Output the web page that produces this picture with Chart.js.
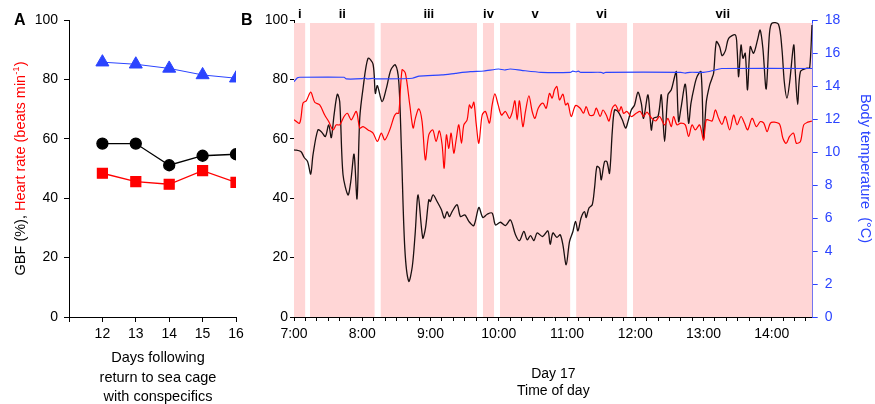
<!DOCTYPE html>
<html>
<head>
<meta charset="utf-8">
<script src="https://cdn.jsdelivr.net/npm/chart.js@4.4.1/dist/chart.umd.min.js"></script>
<style>
  html, body { margin: 0; padding: 0; background: #fff; }
  #wrap { position: relative; width: 875px; height: 404px; overflow: hidden; }
  #chart-a { position: absolute; left: 0; top: 0; }
  #chart-b { position: absolute; left: 240px; top: 0; }
</style>
</head>
<body>
<div id="wrap">
  <canvas id="chart-a" width="250" height="404"></canvas>
  <canvas id="chart-b" width="635" height="404"></canvas>
</div>
<script>
// ---- panel A: daily means ----
const days = [12, 13, 14, 15, 16];
const dailyTemp = [85.8, 85.1, 83.7, 81.5, 80.4]; // plotted on the 0-100 axis
const dailyGbf = [58.4, 58.4, 51.1, 54.3, 54.8];
const dailyHr = [48.4, 45.6, 44.7, 49.3, 45.3];

// ---- panel B: day 17, minutes after 7:00 ----
const gbfMin = [0, 6, 9, 12, 14.7, 16.7, 21, 24, 27.6, 30.5, 32.8, 35.2, 38.1, 40.2, 43.1, 47.5, 49.9, 52.8, 55.4, 57.8,
  60.7, 65.1, 69.5, 71.5, 73.3, 77.4, 81.2, 85.1, 89.1, 92.1, 94.4, 97.4, 100.9, 104, 106.5, 109.1, 113.2, 115.6, 118.5, 119.9,
  122.3, 125.8, 129.6, 132.2, 134.6, 136.6, 139, 143.4, 146.3, 150.2, 153.7, 158.1, 162.5, 166, 169.8, 174.2, 177.1, 181.5, 185.9, 190.3,
  194.7, 198.2, 202.1, 205, 207.9, 210.9, 213.8, 218.5, 223.2, 225.2, 227.6, 231.1, 234, 236.4, 239.3, 242.2, 245.2, 247.5, 249.6, 252.5,
  255.4, 256.9, 259.3, 262.2, 264.2, 266.3, 268.6, 270.1, 273, 275.1, 277.4, 279.8, 281.8, 284.8, 288.6, 291.5, 293.6, 296.5, 299.4, 302.4,
  305.3, 307.3, 311.2, 314.1, 316.1, 320, 322.9, 325.8, 328.7, 331.7, 334.6, 336.1, 338.1, 340.2, 344, 346.9, 349, 351.9, 354.3, 357.8,
  360.1, 362.5, 365.4, 367.5, 368.9, 371.3, 374.2, 376.3, 379.2, 382.1, 388, 389.5, 390.9, 393, 394.7, 396.7, 398.7, 401.1, 404, 407.5,
  409.8, 412.2, 415.1, 418, 420.1, 425.9, 428.9, 431, 433.4, 435.8, 439.3, 440.7, 442.8, 445.2, 451, 453.3, 455.4];
const gbf = [56.3, 55.7, 53.7, 52.3, 48.1, 54.6, 63, 62.4, 60.8, 64.7, 60.4, 68, 75, 72.5, 47.9, 41.1, 45.6, 54.8, 39.8, 66.9,
  77, 87.1, 85.1, 75.3, 77.9, 72.5, 77, 83.2, 84.9, 79.3, 56.8, 23.2, 12, 17, 28, 41.1, 26.6, 29.9, 39.5, 38.9,
  41.1, 38.9, 36.1, 33.3, 35.5, 33.8, 35.5, 37.8, 33.8, 34.4, 32.2, 30.8, 36.9, 33.5, 34.6, 35, 31, 31.9, 30.8, 32.7,
  27.7, 25.7, 28.8, 26, 27.4, 25.7, 28.3, 27.1, 29, 24.5, 28.3, 26.8, 27.7, 24.3, 17.6, 25.4, 28.8, 32.2, 29, 33.5,
  35.5, 33.5, 36.7, 37.8, 43.4, 50.7, 50.1, 46.2, 52.3, 52.3, 48.4, 62.4, 69.7, 69.2, 66.4, 63.6, 65.8, 69.7, 71.4, 75.7,
  72, 66.9, 74.8, 63, 66.9, 67.5, 74.8, 59.1, 74.8, 76.5, 80.9, 82.6, 65.8, 70.3, 78.4, 65.3, 72, 77.6, 80.9, 82.6,
  60.2, 72.5, 78.1, 80.4, 82.1, 92.7, 91, 88, 89.6, 93.8, 95, 90.5, 80.9, 91.6, 87.1, 88.8, 76.5, 91, 88.8, 93.3,
  96.6, 90.5, 76.8, 95.5, 98.9, 98.6, 90.5, 79.3, 73.7, 79.3, 91.6, 82.6, 71.6, 82.6, 83.8, 83.8, 98.3];

const hrMin = [0, 5, 7.9, 10.8, 14.7, 18.2, 22.6, 27, 30.5, 34.3, 37.2, 40.2, 44, 46.9, 50.4, 54.8, 57.8, 60.7, 65.1, 69.5,
  73.3, 76.8, 79.8, 84.2, 88, 90, 92.1, 95, 97.9, 101.8, 104.7, 106.7, 109.7, 112.6, 115.5, 118.5, 122, 124.9, 127.8, 130.2,
  132, 134, 136.1, 138.1, 140.5, 142.5, 144.9, 147.2, 149.3, 152.2, 154.2, 156, 158.1, 160.1, 162.5, 165.4, 168.3, 171.8, 174.2, 176.6,
  179.5, 182.4, 185.9, 189.4, 191.8, 194.2, 196.2, 198.2, 201.2, 203.5, 206.5, 209.4, 211.8, 214.7, 218.8, 221.7, 224.6, 227, 229, 231.1,
  233.4, 236.4, 238.7, 240.8, 243.7, 247.5, 251.6, 254.5, 256.9, 259.8, 263.3, 265.7, 269.2, 271.6, 274.5, 276.9, 279.8, 282.7, 285.7, 287.7,
  289.7, 292.7, 296.5, 300.9, 304.4, 307.3, 310.3, 314.1, 317.9, 321.4, 325.8, 328.7, 331.7, 333.7, 336.7, 340.2, 344, 346.9, 349.9, 352.8,
  356.6, 360.1, 362.5, 367.5, 370.4, 373.3, 376.3, 379.2, 383, 386.5, 389.5, 393, 396, 398.8, 402.7, 406.5, 410, 413, 415.9, 418.8,
  422.3, 426.9, 429.8, 432.7, 435.7, 439.2, 441.6, 445.2, 448.1, 451.6, 455.4];
const hr = [66.4, 65.3, 72, 72.8, 75.7, 72.3, 71.4, 68, 65.8, 63, 64.7, 64.7, 67.5, 68.6, 66.4, 69.2, 63.6, 64.1, 63, 61.9,
  59.1, 61.9, 59.6, 63, 67.5, 68.6, 68.6, 83.2, 82.1, 71.4, 63.6, 66.9, 70.1, 65.8, 52.9, 61.3, 63, 59.1, 62.7, 58,
  50.1, 61.3, 56.8, 61.9, 55.2, 59.6, 64.7, 58.5, 64.7, 66.4, 71.4, 70.3, 72.3, 65.3, 58.5, 68, 69.2, 65.3, 71.4, 75.1,
  71.4, 68, 69.2, 66.9, 68.9, 72.8, 66.4, 72.8, 64.1, 69.2, 74.5, 69.2, 66.9, 70.3, 72, 70.3, 75.3, 73.7, 76.5, 77.6,
  73.1, 75, 71.4, 72, 67.5, 71.2, 70.3, 68.6, 70.8, 68, 68, 70.3, 67.5, 69.7, 68, 66, 70.3, 71.4, 69.2, 70.8,
  68.6, 69.2, 67.5, 68.6, 69.2, 67.5, 69, 67.1, 66, 67.5, 64.7, 66.9, 64.1, 67.5, 64.7, 65.3, 64.7, 60.8, 64.7, 63,
  64.7, 59.6, 66.4, 66, 69.7, 66.9, 64.9, 67.5, 63, 68, 64.7, 67.5, 65.3, 63, 66.9, 64.1, 65.8, 65.3, 62.4, 65.3,
  65.6, 64.9, 60.2, 58.5, 60.8, 61.9, 58.5, 59.1, 64.7, 65.6, 66];

const tempMin = [0, 3, 5, 44, 46, 60, 62, 64, 70, 72, 104, 110, 130, 142, 155, 167, 180, 185, 190, 200,
  217, 243, 245, 248, 250, 252, 270, 272, 274, 340, 344, 348, 360, 365, 372, 376, 455.4];
const temp = [14.26, 14.5, 14.53, 14.53, 14.43, 14.45, 14.5, 14.43, 14.47, 14.43, 14.47, 14.6, 14.67, 14.77, 14.87, 14.91, 15.03, 14.97, 15.03, 14.95,
  14.83, 14.83, 14.9, 14.86, 14.9, 14.83, 14.83, 14.77, 14.83, 14.83, 14.78, 14.83, 14.83, 14.88, 15.0, 15.06, 15.06];

// shaded periods (minutes after 7:00) and their labels
const bandStart = [0, 14, 76, 166, 181, 248, 298];
const bandEnd = [10, 71, 161, 176, 243, 293, 456];
const bandLabels = ['i', 'ii', 'iii', 'iv', 'v', 'vi', 'vii'];
const bandTop = 99;

const xTitleA = ['Days following', 'return to sea cage', 'with conspecifics'];
const xTitleB = ['Day 17', 'Time of day'];

const FONT = '"Liberation Sans", Arial, sans-serif';
const BLUE = '#2b44ff';
const RED = '#ff0000';
const PINK = '#ffd6d6';

Chart.defaults.font.family = FONT;
Chart.defaults.font.size = 14;
Chart.defaults.color = '#000';

const panelAText = {
  id: 'panelAText',
  afterDraw(chart) {
    const { ctx, chartArea } = chart;
    ctx.save();
    ctx.fillStyle = '#000';
    ctx.textBaseline = 'middle';
    ctx.font = 'bold 16px ' + FONT;
    ctx.fillText('A', 14, 21);

    ctx.font = '14.5px ' + FONT;
    ctx.textAlign = 'center';
    xTitleA.forEach((t, i) => ctx.fillText(t, 158, 358 + i * 19.5));

    // rotated y title, two colours
    const parts = [
      { t: 'GBF (%), ', c: '#000', f: '14.5px ' + FONT, dy: 0 },
      { t: 'Heart rate (beats min', c: RED, f: '14.5px ' + FONT, dy: 0 },
      { t: '-1', c: RED, f: '9.5px ' + FONT, dy: -5 },
      { t: ')', c: RED, f: '14.5px ' + FONT, dy: 0 },
    ];
    let total = 0;
    parts.forEach((p) => { ctx.font = p.f; p.w = ctx.measureText(p.t).width; total += p.w; });
    ctx.translate(21, (chartArea.top + chartArea.bottom) / 2);
    ctx.rotate(-Math.PI / 2);
    ctx.textAlign = 'left';
    let x = -total / 2;
    parts.forEach((p) => {
      ctx.font = p.f;
      ctx.fillStyle = p.c;
      ctx.fillText(p.t, x, p.dy);
      x += p.w;
    });
    ctx.restore();
  },
};

const panelBText = {
  id: 'panelBText',
  afterDraw(chart) {
    const { ctx } = chart;
    const xs = chart.scales.x;
    ctx.save();
    ctx.fillStyle = '#000';
    ctx.textBaseline = 'middle';
    ctx.font = 'bold 16px ' + FONT;
    ctx.fillText('B', 1, 21);
    ctx.font = 'bold 13px ' + FONT;
    ctx.textAlign = 'center';
    bandLabels.forEach((lab, i) => {
      ctx.fillText(lab, xs.getPixelForValue((bandStart[i] + bandEnd[i]) / 2), 14);
    });
    ctx.restore();
  },
};

new Chart(document.getElementById('chart-a'), {
  type: 'line',
  data: {
    datasets: [
      {
        data: days.map((d, i) => ({ x: d, y: dailyTemp[i] })),
        borderColor: BLUE, backgroundColor: BLUE, borderWidth: 1,
        pointStyle: 'triangle', pointRadius: 7.5,
      },
      {
        data: days.map((d, i) => ({ x: d, y: dailyGbf[i] })),
        borderColor: '#000', backgroundColor: '#000', borderWidth: 1.3,
        pointStyle: 'circle', pointRadius: 5.5,
      },
      {
        data: days.map((d, i) => ({ x: d, y: dailyHr[i] })),
        borderColor: RED, backgroundColor: RED, borderWidth: 1.3,
        pointStyle: 'rect', pointRadius: 7,
      },
    ],
  },
  options: {
    responsive: false,
    animation: false,
    layout: { padding: { top: 20, right: 14, left: 0, bottom: 0 } },
    plugins: { legend: { display: false }, tooltip: { enabled: false } },
    scales: {
      x: {
        type: 'linear', min: 11, max: 16,
        ticks: { stepSize: 1, autoSkip: false, maxRotation: 0, padding: 4,
          callback: (v) => (v === 11 ? '' : v) },
        grid: { drawOnChartArea: false, tickLength: 5, color: '#000' },
        border: { color: '#000', width: 1 },
        afterFit: (s) => { s.height = 87; },
      },
      y: {
        min: 0, max: 100,
        ticks: { stepSize: 20, padding: 6 },
        grid: { drawOnChartArea: false, tickLength: 5, color: '#000' },
        border: { color: '#000', width: 1 },
        afterFit: (s) => { s.width = 69; },
      },
    },
  },
  plugins: [panelAText],
});

const bandSets = bandStart.map((s, i) => ({
  data: [{ x: s, y: bandTop }, { x: bandEnd[i], y: bandTop }],
  fill: 'origin',
  backgroundColor: PINK,
  borderWidth: 0,
  pointRadius: 0,
  order: 5,
}));

new Chart(document.getElementById('chart-b'), {
  type: 'line',
  data: {
    datasets: [
      {
        data: tempMin.map((t, i) => ({ x: t, y: temp[i] })),
        yAxisID: 'y2', borderColor: BLUE, borderWidth: 1.2, pointRadius: 0, tension: 0.2, order: 1,
      },
      {
        data: hrMin.map((t, i) => ({ x: t, y: hr[i] })),
        borderColor: RED, borderWidth: 1.2, pointRadius: 0, tension: 0.3, order: 1,
      },
      {
        data: gbfMin.map((t, i) => ({ x: t, y: gbf[i] })),
        borderColor: '#1a1010', borderWidth: 1.3, pointRadius: 0, tension: 0.3, order: 1,
      },
      ...bandSets,
    ],
  },
  options: {
    responsive: false,
    animation: false,
    layout: { padding: { top: 20, right: 0, left: 0, bottom: 0 } },
    plugins: { legend: { display: false }, tooltip: { enabled: false } },
    scales: {
      x: {
        type: 'linear', min: 0, max: 456,
        ticks: { stepSize: 10, autoSkip: false, maxRotation: 0, includeBounds: false, padding: 5,
          callback: (v) => (v % 60 === 0 ? `${7 + v / 60}:00` : '') },
        grid: { drawOnChartArea: false, tickLength: 4, color: '#000' },
        border: { color: '#000', width: 1 },
        title: { display: true, text: xTitleB, font: { size: 14, lineHeight: 1.2 }, padding: { top: 0, bottom: 4.6 } },
        afterFit: (s) => { s.height = 87; },
      },
      y: {
        min: 0, max: 100,
        ticks: { stepSize: 20, padding: 2 },
        grid: { drawOnChartArea: false, tickLength: 4, color: '#000' },
        border: { color: '#000', width: 1 },
        afterFit: (s) => { s.width = 54; },
      },
      y2: {
        position: 'right', min: 0, max: 18,
        ticks: { stepSize: 2, padding: 7, color: BLUE },
        grid: { drawOnChartArea: false, tickLength: 5, color: BLUE },
        border: { color: BLUE, width: 1 },
        title: { display: true, text: 'Body temperature  (\u00B0C)', color: BLUE, font: { size: 14.5 }, padding: { top: 1.5, bottom: 0 } },
        afterFit: (s) => { s.width = 62.3; },
      },
    },
  },
  plugins: [panelBText],
});
</script>
</body>
</html>
